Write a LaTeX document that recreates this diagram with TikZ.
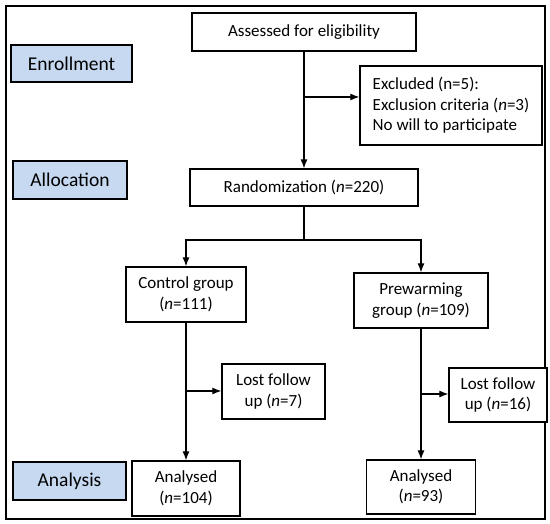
\documentclass[tikz,border=0pt]{standalone}
\usepackage{fontspec}
\setmainfont{Carlito}
\usetikzlibrary{arrows.meta}
\definecolor{stageblue}{RGB}{198,217,241}
\tikzset{
    box/.style={
      draw=black, line width=1.3pt, fill=white, align=center, inner sep=2pt,
      font=\fontsize{17}{20.5}\selectfont,
    },
    stage/.style={
      draw=black, line width=1.3pt, fill=stageblue, inner sep=2pt,
      font=\fontsize{19.5}{23}\selectfont,
    },
    arr/.style={-{Latex[length=9pt,width=7pt]}, line width=1.1pt},
  }
\newcommand*{\nn}{\textit{n}}

\begin{document}
\begin{tikzpicture}[x=1pt,y=-1pt]
      \useasboundingbox (0,0) rectangle (550,524);

      % outer frame
      \draw[line width=1.3pt] (6,6) rectangle (545,519);

      % stage labels
      \node[stage,minimum width=121pt,minimum height=37pt] (enrol) at (71.5,63.5) {Enrollment};
      \node[stage,minimum width=114pt,minimum height=38pt] (alloc) at (70,180) {Allocation};
      \node[stage,minimum width=113pt,minimum height=38pt] (analy) at (69.5,481) {Analysis};

      % enrollment
      \node[box,minimum width=224pt,minimum height=38pt] (assess) at (304,32) {Assessed for eligibility};
      \node[box,minimum width=182pt,minimum height=79pt,align=left] (excl) at (451,105.5)
         {Excluded (n=5):\\Exclusion criteria (\nn=3)\\No will to participate};

      % allocation
      \node[box,minimum width=228pt,minimum height=37pt] (random) at (304,187.5) {Randomization (\nn=220)};
      \node[box,minimum width=120pt,minimum height=55pt] (control) at (186,294.5) {Control group\\(\nn=111)};
      \node[box,minimum width=134pt,minimum height=55pt] (prewarm) at (421,300.5) {Prewarming\\group (\nn=109)};

      % follow up
      \node[box,minimum width=103pt,minimum height=55pt] (lostc) at (273.5,391.5) {Lost follow\\up (\nn=7)};
      \node[box,minimum width=98pt,minimum height=54pt] (lostp) at (498,395) {Lost follow\\up (\nn=16)};

      % analysis
      \node[box,minimum width=108pt,minimum height=55pt] (anac) at (186,488.5) {Analysed\\(\nn=104)};
      \node[box,minimum width=109pt,minimum height=54pt] (anap) at (421,487) {Analysed\\(\nn=93)};

      % flow arrows
      \coordinate (exclfork) at (304,97);
      \coordinate (split) at (304,240);
      \coordinate (ctrlfork) at (186,391);
      \coordinate (prewfork) at (421,394);

      \draw[arr] (assess.south) -- (random.north);
      \draw[arr] (exclfork) -- (exclfork -| excl.west);
      \draw[line width=1.1pt] (random.south) -- (split);
      \draw[arr] (split) -| (control.north);
      \draw[arr] (split) -| (prewarm.north);
      \draw[arr] (control.south) -- (anac.north);
      \draw[arr] (ctrlfork) -- (ctrlfork -| lostc.west);
      \draw[arr] (prewarm.south) -- (anap.north);
      \draw[arr] (prewfork) -- (prewfork -| lostp.west);
    \end{tikzpicture}
\end{document}
